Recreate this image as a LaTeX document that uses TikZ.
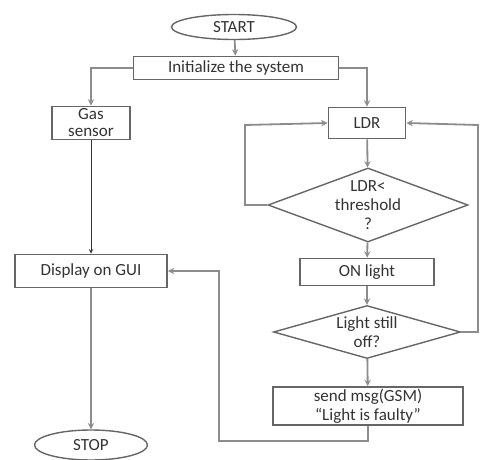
\documentclass[tikz,border=0pt]{standalone}
\usepackage{fontspec}
\setmainfont{Carlito}
\usetikzlibrary{shapes.geometric}

\begin{document}
\begin{tikzpicture}[x=1pt,y=-1pt,>=stealth]
\tikzstyle{term}=[ellipse,draw=black!60,line width=1.4pt,text=black!80,inner sep=0pt]
\tikzstyle{box}=[rectangle,draw=black!60,line width=1.8pt,text=black!80,inner sep=0pt,align=center]
\tikzstyle{dec}=[diamond,draw=black!60,line width=1.4pt,text=black!80,inner sep=-12pt,aspect=2.7,align=center]
\tikzstyle{flow}=[draw=black!45,line width=1.8pt,->]
\useasboundingbox (0,0) rectangle (480,460);
\fontsize{17}{19}\selectfont
\node[term,minimum width=125pt,minimum height=25pt] (start) at (234,27) {START};
\node[box,minimum width=205pt,minimum height=23pt] (init) at (236,68) {Initialize the system};
\node[box,minimum width=78pt,minimum height=33pt] (gas) at (91,123) {Gas\\[-2pt]sensor};
\node[box,minimum width=77pt,minimum height=31pt] (ldr) at (367,123) {LDR};
\node[dec,minimum width=200pt,minimum height=74pt] (thr) at (368,205) {LDR<\\threshold\\?};
\node[box,minimum width=134pt,minimum height=27pt] (on) at (367,272) {ON light};
\node[dec,minimum width=187pt,minimum height=53pt] (still) at (367,332) {Light still\\off?};
\node[box,minimum width=190pt,minimum height=38pt] (msg) at (368,406) {send msg(GSM)\\``Light is faulty''};
\node[box,minimum width=152pt,minimum height=33pt] (gui) at (91,271) {Display on GUI};
\node[term,minimum width=113pt,minimum height=30pt] (stop) at (91,445) {STOP};
\coordinate (loopL) at (245,125);
\coordinate (loopR) at (478,125);
\coordinate (back) at (219,441);
\draw[flow] (start) -- (init);
\draw[flow] (init.west) -| (gas.north);
\draw[flow] (init.east) -| (ldr.north);
\draw[flow,draw=black!80,line width=1pt] (gas) -- (gui);
\draw[flow] (gui) -- (stop);
\draw[flow] (ldr) -- (thr);
\draw[flow] (thr) -- (on);
\draw[flow] (on) -- (still);
\draw[flow] (still) -- (msg);
\draw[flow] (thr.west) -| (loopL) -- (ldr.west);
\draw[flow] (still.east) -| (loopR) -- (ldr.east);
\draw[flow] (msg.south) |- (back) |- (gui.east);
\end{tikzpicture}
\end{document}
